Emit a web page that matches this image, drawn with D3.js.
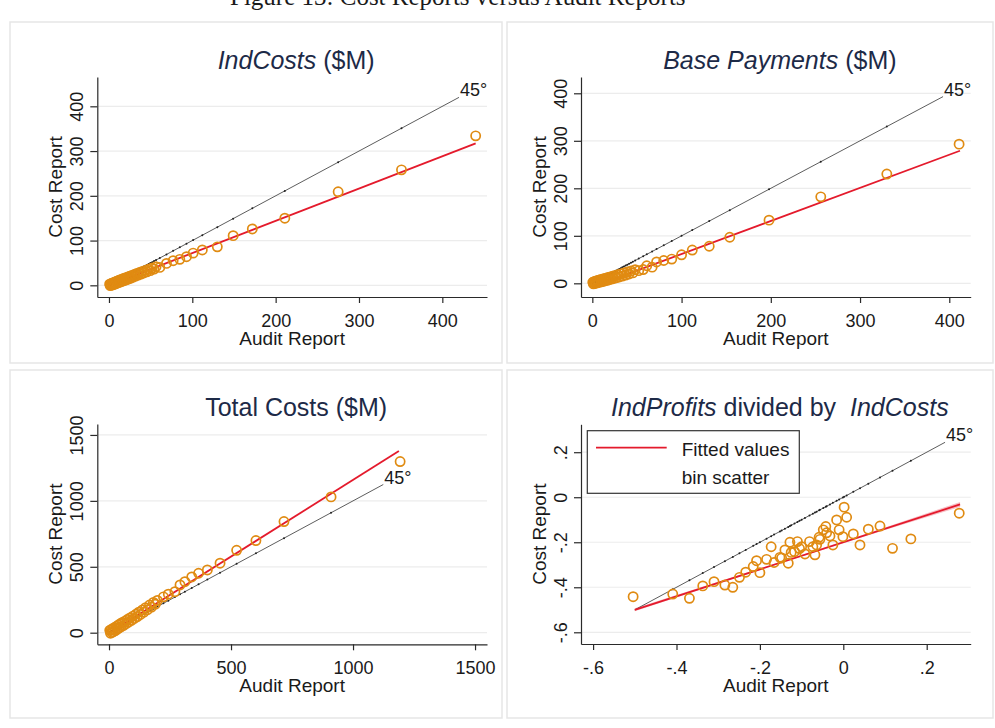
<!DOCTYPE html>
<html>
<head>
<meta charset="utf-8">
<title>Cost Reports versus Audit Reports</title>
<script src="https://d3js.org/d3.v7.min.js"></script>
<style>
	body { margin: 0; background: #fff; }
	svg text { font-family: "Liberation Sans", Arial, sans-serif; fill: #1a1a1a; }
	.caption { font-family: "Liberation Serif", "Times New Roman", serif !important; }
	.frame { fill: none; stroke: #e6e6e6; stroke-width: 1.5; }
	.grid line { stroke: #ececec; stroke-width: 1.2; }
	.axis path, .axis line { stroke: #2a2a2a; stroke-width: 1.2; }
	.axis text { font-size: 18px; }
	.ptitle { font-size: 25px; fill: #1d2a47 !important; }
	.atitle { font-size: 19px; }
	.deg { font-size: 18px; }
	.pt { fill: none; stroke: #e08b12; stroke-width: 1.7; }
	.fit { fill: none; stroke: #e41a2c; stroke-width: 1.8; }
	.diag { fill: none; stroke: #333; stroke-width: 0.8; }
</style>
</head>
<body>
<script>

// ---- data ----

// IndCosts ($M): audit report (x) vs cost report (y)
var indCostsAudit = [0.8,1.5,2.2,3,3.8,4.5,5.3,6,7,7.8,8.7,9.5,10.4,11.3,12.2,13.1,14,15,16,17,
	18,19.1,20.2,21.4,22.6,23.8,25,26.3,27.6,29,30.4,31.9,33.4,35,36.6,38.3,40,41.8,43.6,45.5,
	47.5,49.6,51.8,54.1,56.5,61,69,77,85,93,101,112,130,149,172,211,275,351,440]
var indCostsCost = [2.5,-0.5,3.4,0.5,4.6,1.2,5.9,2.2,7.1,3.4,8.6,4.8,9.9,5.9,11.4,7.2,12.6,8.5,14.1,9.8,
	15.4,11.2,17,12.8,18.6,14.4,20.2,16.3,22.1,18.5,24.3,20.6,26.5,22.9,28.6,25.1,31,27.6,33.4,30.2,
	36.1,32.8,38.9,36.2,41.5,40,49,55,58,64,72,79,86,111,126,150,209,258,334]
var indCostsFitX = [0, 440]
var indCostsFitY = [0, 317]
var indCostsDiag = [0, 420]

// Base Payments ($M)
var basePayAudit = [0.5,1.2,2,2.8,3.6,4.4,5.2,6,7,8,9,10,11,12,13,14.1,15.2,16.4,17.6,18.8,
	20,21.3,22.6,24,25.5,27,28.6,30.2,31.9,33.6,35.4,37.3,39.2,41.2,43.3,45.4,48,52,
	57,61,67,72,80,89,100,112,131,154,198,256,330,411]
var basePayCost = [2.2,-1.2,3.5,-0.2,4.4,0.6,5.5,1.4,6.4,2.3,7.6,3.2,8.7,4.2,9.9,5.1,10.9,6.4,12.1,7.5,
	13.4,8.9,14.8,10.1,16.3,11.8,18,13.4,19.9,15.2,21.8,17.4,23.9,19.6,26.1,21.9,28.8,26.7,
	29,37,34,45,48,51,60,70,78,97,133,182,230,293]
var basePayFitX = [0, 412]
var basePayFitY = [-8, 279]
var basePayDiag = [0, 393]

// Total Costs ($M)
var totalAudit = [3,6,9,12,15,18,22,26,30,34,38,42,46,50,55,60,65,70,75,80,
	86,92,98,104,110,116,122,129,136,143,150,158,166,174,182,190,
	198,223,243,270,291,311,339,367,403,455,523,602,717,910,1193]
var totalCost = [18,-4,24,2,30,8,38,16,48,26,58,36,68,46,78,56,88,68,100,80,
	112,94,126,108,140,122,156,138,172,156,190,174,210,194,230,216,
	245,272,292,311,362,387,423,451,476,527,625,699,843,1030,1298]
var totalFitX = [0, 1188]
var totalFitY = [-5, 1378]
var totalDiag = [0, 1124]

// IndProfits divided by IndCosts
var ratioAudit = [-0.504,-0.409,-0.369,-0.337,-0.31,-0.284,-0.265,-0.249,-0.234,-0.216,
	-0.208,-0.2,-0.184,-0.173,-0.166,-0.152,-0.14,-0.132,-0.128,-0.117,
	-0.11,-0.1,-0.092,-0.081,-0.073,-0.068,-0.056,-0.048,-0.042,-0.032,
	-0.025,-0.016,-0.01,-0.001,0.002,0.008,0.024,0.04,0.06,0.088,
	0.118,0.162,0.278,-0.105,-0.064,-0.058,-0.04,-0.148,-0.125]
var ratioCost = [-0.442,-0.43,-0.449,-0.394,-0.375,-0.39,-0.40,-0.356,-0.333,-0.308,
	-0.282,-0.335,-0.276,-0.22,-0.29,-0.267,-0.234,-0.293,-0.2,-0.242,
	-0.197,-0.22,-0.252,-0.197,-0.22,-0.256,-0.187,-0.145,-0.13,-0.172,
	-0.212,-0.101,-0.145,-0.175,-0.044,-0.089,-0.163,-0.212,-0.142,-0.128,
	-0.227,-0.185,-0.071,-0.228,-0.212,-0.178,-0.158,-0.27,-0.245]
var ratioFitX = [-0.5, 0.28]
var ratioFitY = [-0.5, -0.032]
var ratioCiX = [-0.5, -0.3, -0.1, 0.1, 0.28]
var ratioCiLow = [-0.507, -0.384, -0.263, -0.146, -0.043]
var ratioCiHigh = [-0.493, -0.376, -0.257, -0.134, -0.021]
var ratioDiag = [-0.5, 0.244]

// tick labels
var ticks400 = [0, 100, 200, 300, 400]
var ticks1500 = [0, 500, 1000, 1500]
var ticksRatio = [-0.6, -0.4, -0.2, 0, 0.2]

var legendLabels = ["Fitted values", "bin scatter"]
var captionText = "Figure 13: Cost Reports versus Audit Reports"

// ---- layout ----

var width = 995, height = 728

var svg = d3.select("body").append("svg")
	.attr("width", width)
	.attr("height", height)

// clipped figure caption at the very top
svg.append("text")
	.attr("class", "caption")
	.attr("x", 230)
	.attr("y", 5)
	.style("font-size", "25px")
	.text(captionText)

// faint frames of the combined graphs
var frames = [[10, 22, 492, 341], [507, 22, 486, 341], [10, 370, 492, 348], [507, 370, 486, 348]]
svg.selectAll("rect.frame").data(frames).enter().append("rect")
	.attr("class", "frame")
	.attr("x", d => d[0]).attr("y", d => d[1])
	.attr("width", d => d[2]).attr("height", d => d[3])

// Stata style labels: plain hyphen, no leading zero
var fmtRatio = function(d) {
	if (d === 0) return "0"
	var s = Math.abs(d).toFixed(1).replace("0.", ".")
	return d < 0 ? "-" + s : s
}

var panels = [
	{ left: 97.3, right: 487, top: 77, bottom: 297, xDomain: [-14, 453.6], yDomain: [-26.1, 465.5],
	  xs: indCostsAudit, ys: indCostsCost, fitX: indCostsFitX, fitY: indCostsFitY, diag: indCostsDiag,
	  xTicks: ticks400, yTicks: ticks400, fmt: d3.format("d"),
	  title: [["IndCosts", true], [" ($M)", false]] },
	{ left: 581, right: 970.7, top: 77, bottom: 297, xDomain: [-12.7, 424], yDomain: [-28.8, 434.3],
	  xs: basePayAudit, ys: basePayCost, fitX: basePayFitX, fitY: basePayFitY, diag: basePayDiag,
	  xTicks: ticks400, yTicks: ticks400, fmt: d3.format("d"),
	  title: [["Base Payments", true], [" ($M)", false]] },
	{ left: 97.3, right: 487, top: 424, bottom: 644.3, xDomain: [-48, 1549], yDomain: [-88, 1583],
	  xs: totalAudit, ys: totalCost, fitX: totalFitX, fitY: totalFitY, diag: totalDiag,
	  xTicks: ticks1500, yTicks: ticks1500, fmt: d3.format("d"),
	  title: [["Total Costs ($M)", false]] },
	{ left: 581, right: 970.7, top: 424.3, bottom: 644, xDomain: [-0.629, 0.3055], yDomain: [-0.652, 0.324],
	  xs: ratioAudit, ys: ratioCost, fitX: ratioFitX, fitY: ratioFitY, diag: ratioDiag,
	  xTicks: ticksRatio, yTicks: ticksRatio, fmt: fmtRatio,
	  ci: true, legend: true,
	  title: [["IndProfits", true], [" divided by  ", false], ["IndCosts", true]] }
]

panels.forEach(function(p) {
	var x = d3.scaleLinear().domain(p.xDomain).range([p.left, p.right])
	var y = d3.scaleLinear().domain(p.yDomain).range([p.bottom, p.top])
	var g = svg.append("g")

	// horizontal grid
	g.append("g").attr("class", "grid")
		.selectAll("line").data(p.yTicks).enter().append("line")
		.attr("x1", p.left).attr("x2", p.right)
		.attr("y1", d => y(d)).attr("y2", d => y(d))

	// confidence band (only the ratio panel)
	if (p.ci) {
		var band = d3.area()
			.x((d, i) => x(ratioCiX[i]))
			.y0((d, i) => y(ratioCiLow[i]))
			.y1((d, i) => y(ratioCiHigh[i]))
		g.append("path").datum(ratioCiX)
			.attr("d", band)
			.attr("fill", "#f08a96")
			.attr("opacity", 0.55)
	}

	// 45 degree line with its small dots
	var line = d3.line().x(d => x(d[0])).y(d => y(d[1]))
	g.append("path").attr("class", "diag")
		.attr("d", line([[p.diag[0], p.diag[0]], [p.diag[1], p.diag[1]]]))
	g.selectAll("circle.dd")
		.data(p.xs.filter(v => v >= p.diag[0] && v <= p.diag[1]))
		.enter().append("circle")
		.attr("cx", d => x(d)).attr("cy", d => y(d))
		.attr("r", 1).attr("fill", "#222")
	g.append("text").attr("class", "deg")
		.attr("x", x(p.diag[1]) + 1)
		.attr("y", y(p.diag[1]) - 1)
		.text("45°")

	// fitted line
	g.append("path").attr("class", "fit")
		.attr("d", line([[p.fitX[0], p.fitY[0]], [p.fitX[1], p.fitY[1]]]))

	// bin scatter
	g.selectAll("circle.pt")
		.data(p.xs.map((v, i) => [v, p.ys[i]]))
		.enter().append("circle")
		.attr("class", "pt")
		.attr("cx", d => x(d[0])).attr("cy", d => y(d[1]))
		.attr("r", 4.6)

	// axes
	var xAxis = g.append("g").attr("class", "axis")
		.attr("transform", "translate(0," + p.bottom + ")")
		.call(d3.axisBottom(x).tickValues(p.xTicks).tickFormat(p.fmt).tickSize(6).tickSizeOuter(0))
	xAxis.selectAll("text").attr("y", 30).attr("dy", 0)

	var yAxis = g.append("g").attr("class", "axis")
		.attr("transform", "translate(" + p.left + ",0)")
		.call(d3.axisLeft(y).tickValues(p.yTicks).tickFormat(p.fmt).tickSize(7).tickSizeOuter(0))
	yAxis.selectAll("text")
		.attr("transform", "rotate(-90)")
		.attr("x", 0).attr("y", -14.5).attr("dy", 0)
		.style("text-anchor", "middle")

	// axis titles
	g.append("text").attr("class", "atitle")
		.attr("x", (p.left + p.right) / 2)
		.attr("y", p.bottom + 48)
		.attr("text-anchor", "middle")
		.text("Audit Report")
	g.append("text").attr("class", "atitle")
		.attr("transform", "translate(" + (p.left - 35.5) + "," + ((p.top + p.bottom) / 2) + ") rotate(-90)")
		.attr("text-anchor", "middle")
		.text("Cost Report")

	// panel title
	var t = g.append("text").attr("class", "ptitle")
		.attr("x", (p.left + p.right) / 2 + 4)
		.attr("y", p.top - 8.5)
		.attr("text-anchor", "middle")
		.style("white-space", "pre")
	p.title.forEach(function(part) {
		t.append("tspan")
			.style("font-style", part[1] ? "italic" : "normal")
			.text(part[0])
	})

	// legend
	if (p.legend) {
		var lg = g.append("g")
		lg.append("rect")
			.attr("x", 587.3).attr("y", 430.7)
			.attr("width", 212).attr("height", 62.6)
			.attr("fill", "#fff").attr("stroke", "#333").attr("stroke-width", 1.2)
		lg.append("line")
			.attr("x1", 596).attr("x2", 666.7)
			.attr("y1", 447.7).attr("y2", 447.7)
			.attr("stroke", "#e41a2c").attr("stroke-width", 1.8)
		lg.selectAll("text").data(legendLabels).enter().append("text")
			.attr("x", 681.7)
			.attr("y", (d, i) => 455.7 + i * 28.6)
			.style("font-size", "19px")
			.text(d => d)
	}
})

</script>
</body>
</html>
